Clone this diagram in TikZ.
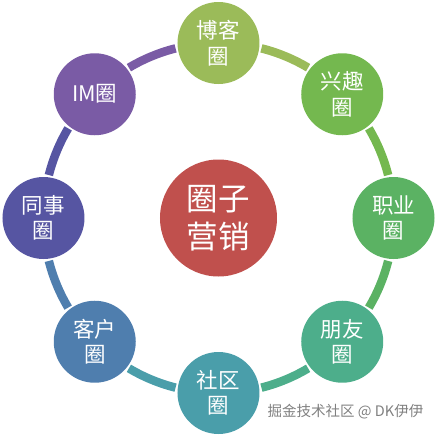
\documentclass[tikz,border=0pt]{standalone}
\usepackage{fontspec}
\newfontfamily\cjk{Noto Sans CJK SC}
\definecolor{c0}{HTML}{9BBB59}
\definecolor{c1}{HTML}{74B84F}
\definecolor{c2}{HTML}{5BB263}
\definecolor{c3}{HTML}{4DAE8B}
\definecolor{c4}{HTML}{4A9EAA}
\definecolor{c5}{HTML}{4F7EAE}
\definecolor{c6}{HTML}{5655A2}
\definecolor{c7}{HTML}{7A5BA5}
\definecolor{cc}{HTML}{C0504D}
\tikzset{
  circ/.style={circle, minimum size=82pt, inner sep=0pt, text=white, align=center,
    font=\cjk\fontsize{21.5}{25.5}\selectfont},
  ringseg/.style={line width=8.5pt, line cap=butt}
}
\begin{document}
\begin{tikzpicture}[x=1pt,y=1pt]
\useasboundingbox (-218.5,-219) rectangle (218.5,218);
\foreach \i/\ca in {0/c0,1/c1,2/c2,3/c3,4/c4,5/c5,6/c6,7/c7}{
  \pgfmathsetmacro\a{90-45*\i-14.2}
  \pgfmathsetmacro\b{90-45*(\i+1)+14.2}
  \draw[ringseg, color=\ca] (\a:175) arc[start angle=\a, end angle=\b, radius=175];
}
\node[circ, fill=c0] (blog) at (90:175) {博客\\圈};
\node[circ, fill=c1] (hobby) at (45:175) {兴趣\\圈};
\node[circ, fill=c2] (job) at (0:175) {职业\\圈};
\node[circ, fill=c3] (friend) at (-45:175) {朋友\\圈};
\node[circ, fill=c4] (comm) at (-90:175) {社区\\圈};
\node[circ, fill=c5] (client) at (-135:175) {客户\\圈};
\node[circ, fill=c6] (mate) at (180:175) {同事\\圈};
\node[circ, fill=c7] (im) at (135:175) {IM圈};
\node[circle, minimum size=117pt, inner sep=0pt, fill=cc, text=white, align=center,
  font=\cjk\fontsize{31.5}{38}\selectfont] (center) at (0,0) {圈子\\营销};
\node[anchor=east, inner sep=0pt, text=black!50, font=\cjk\fontsize{14.5}{16}\selectfont] (wm) at (205,-194) {掘金技术社区 @ DK伊伊};
\end{tikzpicture}
\end{document}
